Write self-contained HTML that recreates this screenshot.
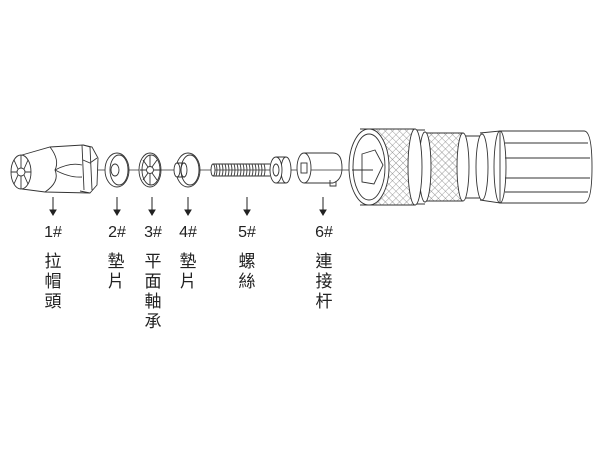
<!DOCTYPE html>
<html><head><meta charset="utf-8"><style>
body{margin:0;background:#fff;width:600px;height:450px;overflow:hidden;position:relative}
svg{position:absolute;left:0;top:0}
.n{position:absolute;font-family:"Liberation Sans",sans-serif;font-size:16px;color:#222;transform:translateX(-50%);top:224px}
.c{position:absolute;font-family:"Liberation Sans","Noto Sans CJK TC",sans-serif;font-size:17px;line-height:20px;color:#222;width:20px;text-align:center;transform:translateX(-50%);top:252px}
</style></head><body>
<svg width="600" height="450" viewBox="0 0 600 450">
<defs>
<pattern id="k" width="5" height="5" patternUnits="userSpaceOnUse" patternTransform="rotate(45)">
<path d="M0 0V5M0 0H5" stroke="#777" stroke-width="0.7"/>
</pattern>
</defs>
<g fill="none" stroke="#333" stroke-width="0.9">
<line x1="98" y1="170" x2="350" y2="170" stroke-width="0.8"/>
<ellipse cx="21" cy="172" rx="10" ry="17" fill="#fff"/>
<circle cx="21" cy="172" r="4"/>
<path d="M21 155 L21 168 M21 176 L21 189 M11 172 L17 172 M25 172 L31 172 M14 160 L18 169 M28 160 L24 169 M14 184 L18 175 M28 184 L24 175"/>
<path d="M22 155 L50 147 L83 145 L90 147 M22 189 L45 192 L90 193"/>
<path d="M50 147 Q60 160 55 170 Q60 182 45 192 M55 170 Q70 162 82 165 M55 170 Q70 178 82 177"/>
<path d="M82 145 L84 190 M83 145 L92 147 L98 158 L97 185 L90 193 L80 191 M90 147 L92 190 M97 158 L90 163 L83 160"/>
<ellipse cx="117" cy="170" rx="12" ry="17" fill="#fff"/>
<ellipse cx="119" cy="170" rx="9" ry="15"/>
<ellipse cx="115" cy="170" rx="4" ry="6"/>
<ellipse cx="150" cy="170" rx="11" ry="17" fill="#fff"/>
<ellipse cx="151" cy="170" rx="9" ry="15"/>
<circle cx="150" cy="170" r="3.5"/>
<path d="M150 155 V166 M150 174 V185 M140 170 H146 M154 170 H161 M143 160 L148 167 M157 160 L152 167 M143 180 L148 173 M157 180 L152 173"/>
<ellipse cx="188" cy="170" rx="12" ry="17" fill="#fff"/>
<ellipse cx="190" cy="170" rx="9" ry="15"/>
<path d="M177 163 L185 163 M177 177 L185 177"/>
<ellipse cx="177" cy="170" rx="3" ry="7" fill="#fff"/>
<ellipse cx="184" cy="170" rx="3" ry="7"/>
<path d="M213 164 H270 M213 176 H270"/>
<ellipse cx="213" cy="170" rx="2" ry="6" fill="#fff"/>
<path d="M216 164 q2 6 0 12 M219 164 q2 6 0 12 M222 164 q2 6 0 12 M225 164 q2 6 0 12 M228 164 q2 6 0 12 M231 164 q2 6 0 12 M234 164 q2 6 0 12 M237 164 q2 6 0 12 M240 164 q2 6 0 12 M243 164 q2 6 0 12 M246 164 q2 6 0 12 M249 164 q2 6 0 12 M252 164 q2 6 0 12 M255 164 q2 6 0 12 M258 164 q2 6 0 12 M261 164 q2 6 0 12 M264 164 q2 6 0 12"/>
<path d="M276 157 H286 M276 183 H286" />
<ellipse cx="286" cy="170" rx="5" ry="13" fill="#fff"/>
<ellipse cx="276" cy="170" rx="6" ry="13" fill="#fff"/>
<ellipse cx="276" cy="170" rx="3" ry="6"/>
<path d="M304 153 H333 Q342 153 342 168 Q342 180 333 183 H304"/>
<path d="M330 180 L330 186 L336 186 L336 181"/>
<ellipse cx="304" cy="168" rx="7" ry="15" fill="#fff"/>
<rect x="301" y="163" width="6" height="10"/>
<path d="M500 131 H584 Q592 131 592 167 Q592 203 584 203 H500"/>
<path d="M505 143 H588 M505 158 H590 M505 178 H590 M505 192 H588"/>
<path d="M480 133 L500 131 L500 203 L480 200"/>
<ellipse cx="500" cy="167" rx="6" ry="36"/>
<path d="M463 136 H482 M463 198 H482"/>
<ellipse cx="482" cy="167" rx="6" ry="33" fill="#fff"/>
<rect x="423" y="133" width="40" height="68" fill="url(#k)" stroke="none"/>
<path d="M423 133 H463 M423 201 H463"/>
<ellipse cx="463" cy="167" rx="6" ry="34" fill="#fff"/>
<path d="M413 130 H425 M413 204 H425"/>
<ellipse cx="425" cy="167" rx="6" ry="35" fill="#fff"/>
<rect x="370" y="129" width="45" height="76" fill="url(#k)" stroke="none"/>
<path d="M360 129 H415 M360 205 H415"/>
<ellipse cx="415" cy="167" rx="7" ry="38" fill="#fff"/>
<ellipse cx="369" cy="167" rx="20" ry="38" fill="#fff"/>
<ellipse cx="369" cy="167" rx="16" ry="33"/>
<path d="M362 154 L375 150 L383 165 L374 184 L362 182 Z M352 170 H373"/>
</g>
<g stroke="#222" stroke-width="1" fill="#222">
<path d="M53 197 V211 M117 197 V211 M152 197 V211 M188 197 V211 M247 197 V211 M323 197 V211"/>
<path d="M50 210 L53 215 L56 210Z M114 210 L117 215 L120 210Z M149 210 L152 215 L155 210Z M185 210 L188 215 L191 210Z M244 210 L247 215 L250 210Z M320 210 L323 215 L326 210Z"/>
</g>
</svg>
<div class="n" style="left:53px">1#</div>
<div class="n" style="left:117px">2#</div>
<div class="n" style="left:153px">3#</div>
<div class="n" style="left:188px">4#</div>
<div class="n" style="left:247px">5#</div>
<div class="n" style="left:324px">6#</div>
<div class="c" style="left:53px">拉帽頭</div>
<div class="c" style="left:116px">墊片</div>
<div class="c" style="left:153px">平面軸承</div>
<div class="c" style="left:188px">墊片</div>
<div class="c" style="left:247px">螺絲</div>
<div class="c" style="left:324px">連接杆</div>
</body></html>
